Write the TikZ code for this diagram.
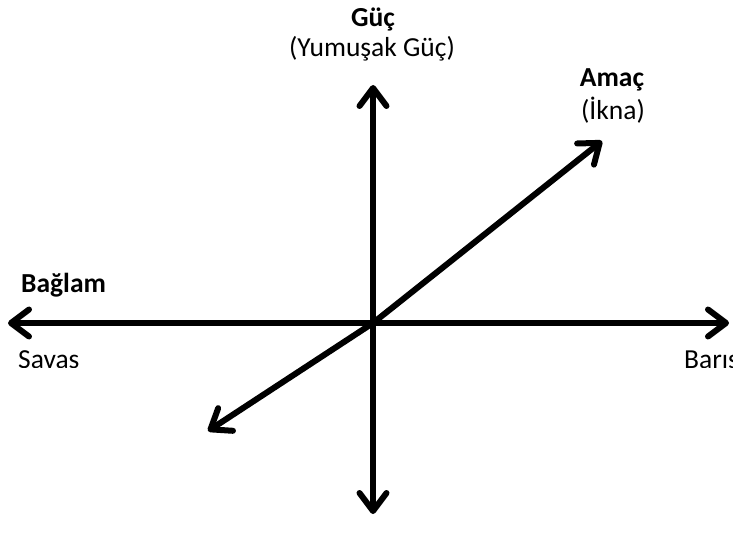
\documentclass[tikz,border=0pt]{standalone}
\usepackage{fontspec}
\setmainfont{Carlito}
\usetikzlibrary{arrows.meta}
\begin{document}
\begin{tikzpicture}[x=1pt,y=-1pt,
  axis/.style={line width=6pt,line cap=round,-{Straight Barb[length=18pt,width=27pt,line width=6pt,round]}},
  lbl/.style={font=\fontsize{27.5}{32}\selectfont,inner sep=0pt},
  blbl/.style={font=\fontsize{27.5}{32}\selectfont\bfseries,inner sep=0pt}]
\useasboundingbox (0,0) rectangle (733,548);
\coordinate (O) at (373,323);
\coordinate (L) at (8,323);
\coordinate (R) at (729,323);
\coordinate (T) at (373,85);
\coordinate (B) at (373,514);
\coordinate (NE) at (602,141);
\coordinate (SW) at (208,431);
\draw[axis] (O) -- (L);
\draw[axis] (O) -- (R);
\draw[axis] (O) -- (T);
\draw[axis] (O) -- (B);
\draw[axis] (O) -- (NE);
\draw[axis] (O) -- (SW);
\node[blbl] (guc) at (373,20) {Güç};
\node[lbl] (yumusak) at (372,49) {(Yumuşak Güç)};
\node[blbl] (amac) at (612,80) {Amaç};
\node[lbl] (ikna) at (613,110) {(İkna)};
\node[blbl,anchor=west] (baglam) at (21,285) {Bağlam};
\begin{scope}
\clip (0,300) rectangle (733,367);
\node[lbl,anchor=west] (savas) at (18,360) {Savas};
\node[lbl,anchor=west] (baris) at (684,360) {Barıs};
\end{scope}
\end{tikzpicture}
\end{document}
